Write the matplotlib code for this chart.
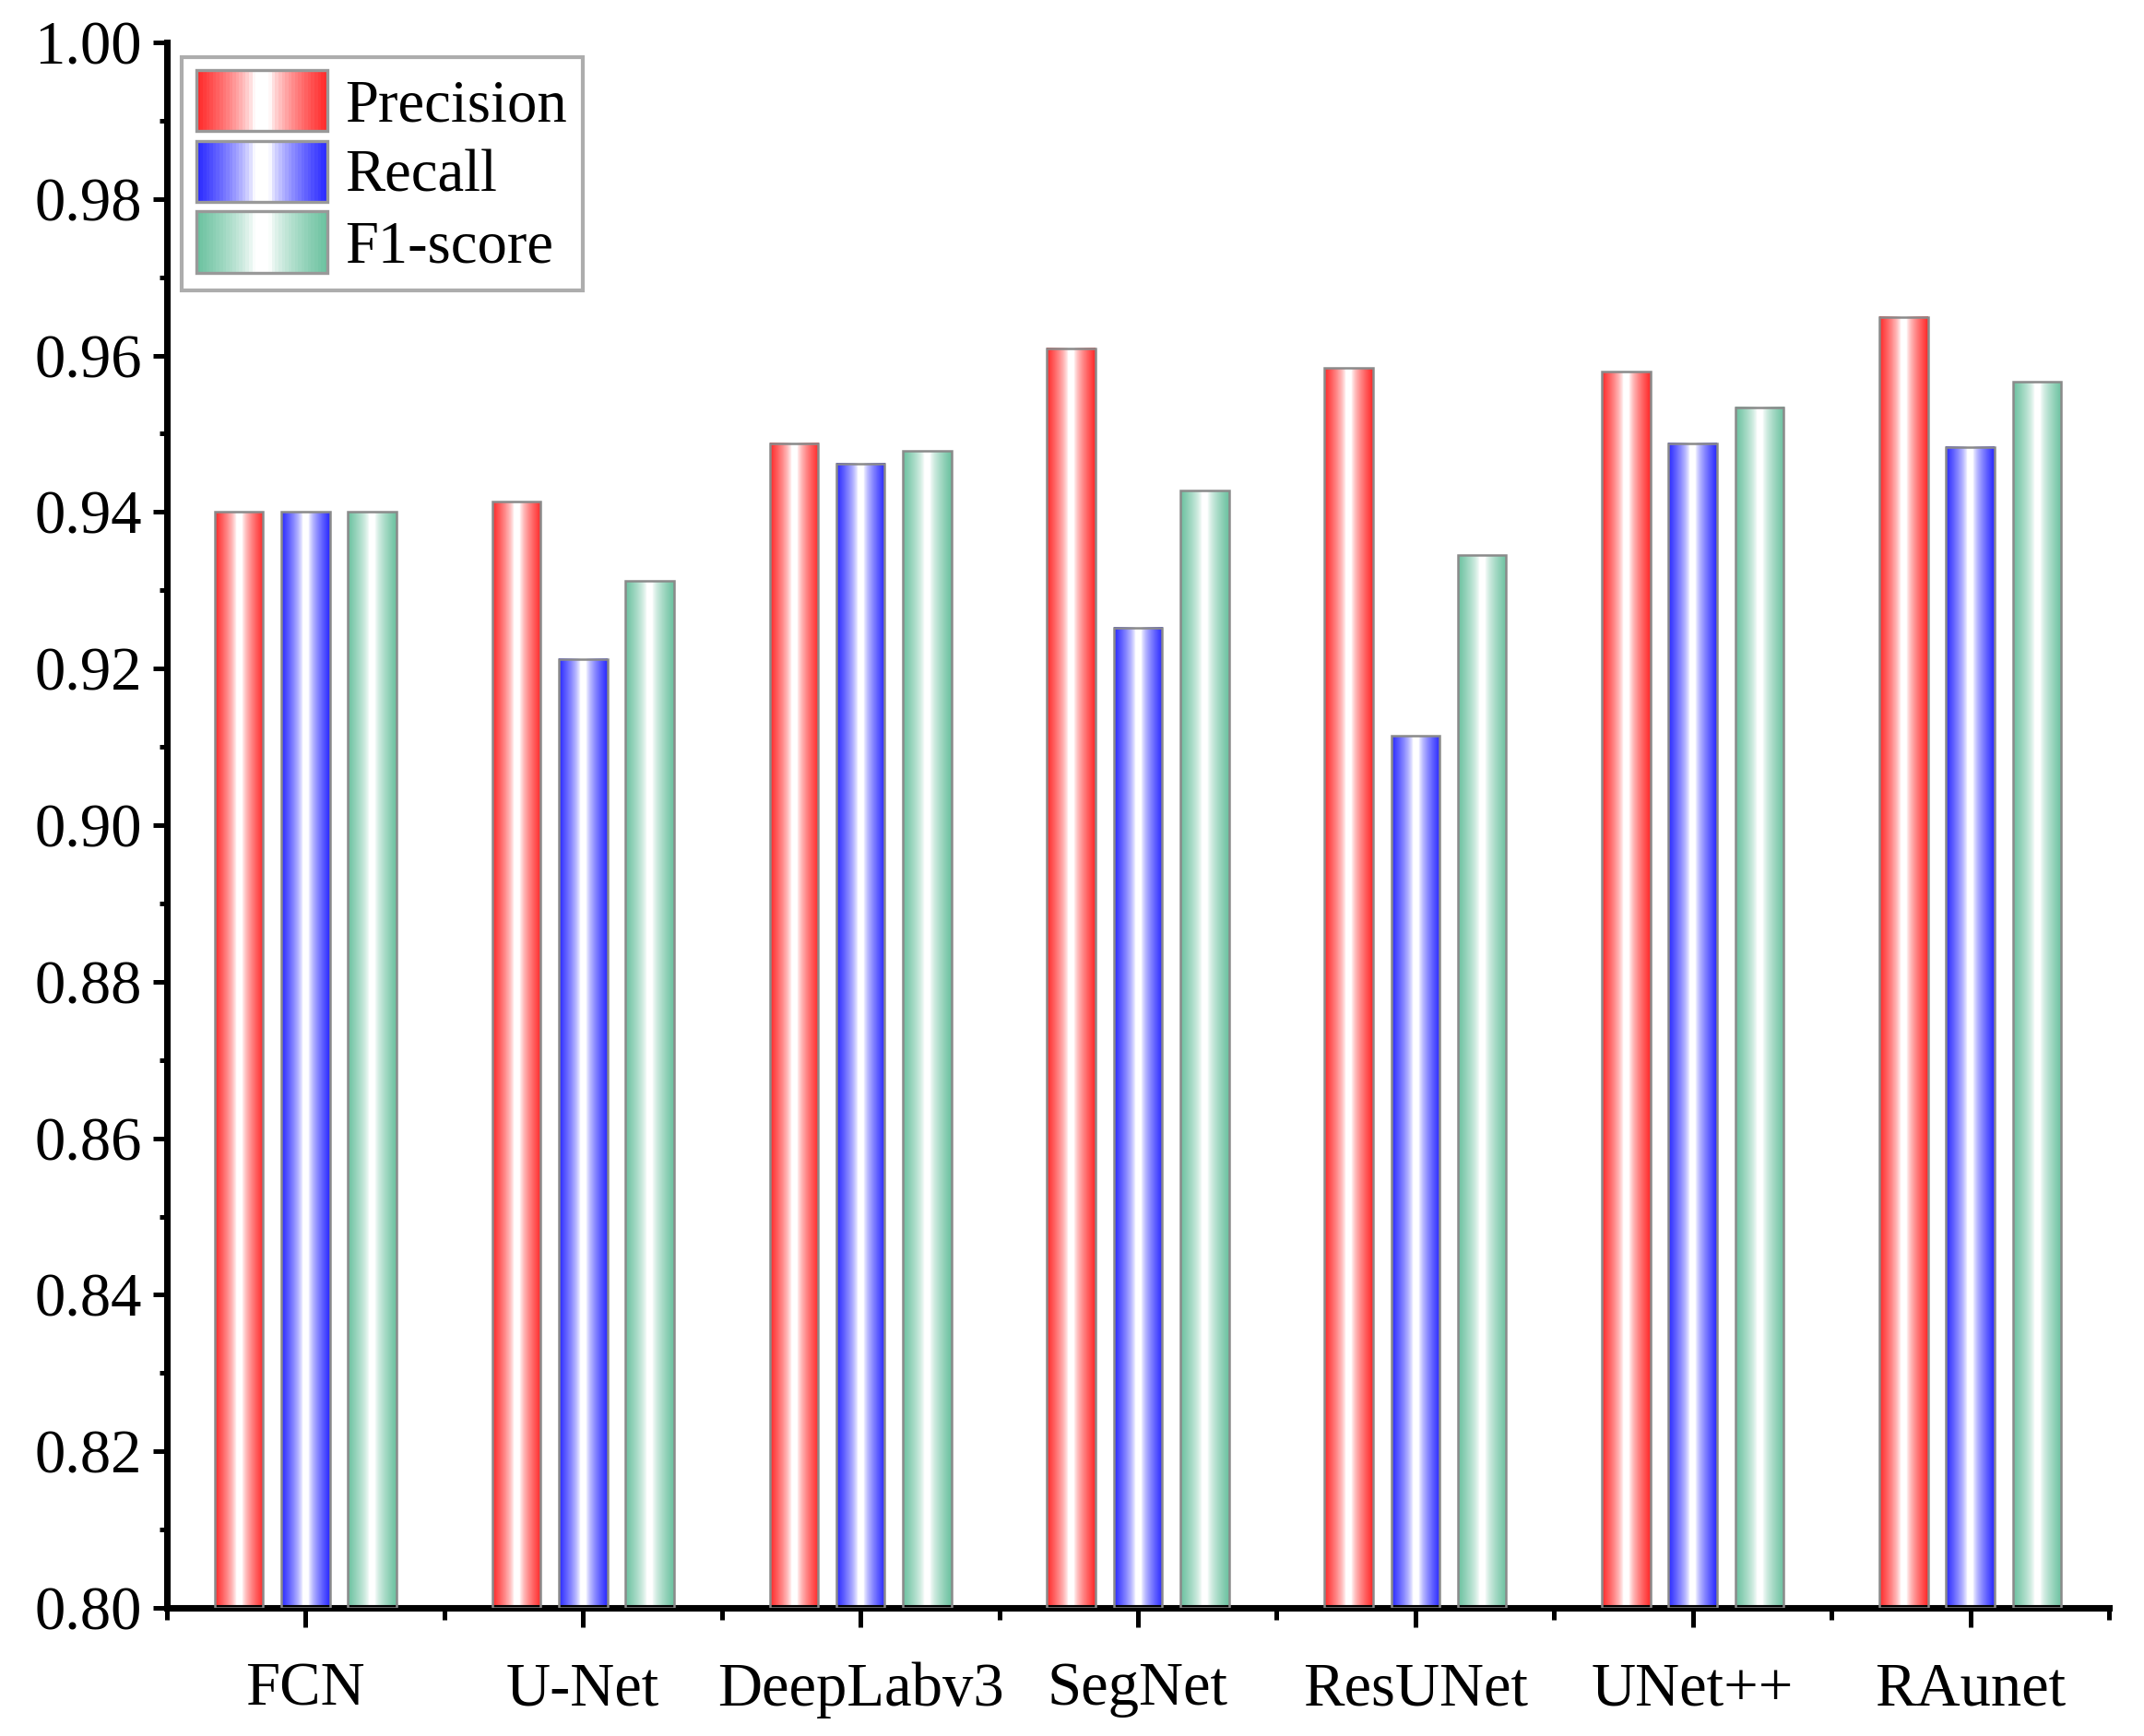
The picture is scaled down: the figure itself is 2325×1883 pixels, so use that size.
import numpy as np
import matplotlib.pyplot as plt
from matplotlib.patches import Rectangle
from matplotlib.legend_handler import HandlerBase
from matplotlib.colors import to_rgb
from matplotlib.ticker import MultipleLocator

plt.rcParams['font.family'] = ['Liberation Serif', 'DejaVu Serif']

models = ['FCN', 'U-Net', 'DeepLabv3', 'SegNet', 'ResUNet', 'UNet++', 'RAunet']
precision = [0.9400, 0.9413, 0.9488, 0.9609, 0.9584, 0.9579, 0.9649]
recall = [0.9400, 0.9212, 0.9462, 0.9252, 0.9114, 0.9488, 0.9483]
f1_score = [0.9400, 0.9312, 0.9478, 0.9427, 0.9345, 0.9534, 0.9566]
series_names = ['Precision', 'Recall', 'F1-score']
series_colors = ['#ff2a2a', '#2a2aff', '#6cc2a0']


def gradient(color, n=64):
    # colour at both edges, white in the middle (Origin style mirrored fill)
    t = np.linspace(0, 1, n)
    w = np.clip((np.abs(2 * t - 1) - 0.12) / 0.88, 0, 1) ** 0.7
    c = np.array(to_rgb(color))
    return (1 - w)[:, None] * np.ones(3) + w[:, None] * c


class GradientHandler(HandlerBase):
    def create_artists(self, legend, orig_handle, xdescent, ydescent,
                       width, height, fontsize, trans):
        cols = gradient(orig_handle.get_facecolor(), 40)
        arts = []
        n = len(cols)
        for i, col in enumerate(cols):
            r = Rectangle((-xdescent + width * i / n, -ydescent - 0.5),
                          width / n + 0.3, height + 1, facecolor=col,
                          edgecolor='none', transform=trans)
            arts.append(r)
        border = Rectangle((-xdescent, -ydescent - 0.5), width, height + 1,
                           facecolor='none', edgecolor='#999999', lw=0.8,
                           transform=trans)
        arts.append(border)
        return arts


fig = plt.figure(figsize=(7.75, 6.2767), dpi=300)
ax = fig.add_axes([0.0778, 0.0738, 0.9059, 0.9018])

x = np.arange(len(models))
width = 0.175
offsets = [-0.24, 0, 0.24]
handles = []
for vals, off, color, name in zip([precision, recall, f1_score], offsets,
                                  series_colors, series_names):
    bars = ax.bar(x + off, np.array(vals) - 0.8, width, bottom=0.8,
                  facecolor='none', edgecolor='#8a8a8a', lw=0.6, zorder=3)
    img = gradient(color)[None, :, :]
    for b in bars:
        x0, y0 = b.get_x(), b.get_y()
        ax.imshow(img, extent=(x0, x0 + b.get_width(), y0, y0 + b.get_height()),
                  aspect='auto', zorder=2, interpolation='bilinear')
    handles.append(Rectangle((0, 0), 1, 1, facecolor=color, label=name))

ax.set_xlim(-0.5, 6.5)
ax.set_ylim(0.80, 1.00)
ax.set_xticks(x)
ax.set_xticklabels(models)
ax.set_xticks(np.arange(-0.5, 6.6, 1.0), minor=True)
ax.set_yticks(np.arange(0.80, 1.001, 0.02))
ax.set_yticklabels([f'{v:.2f}' for v in np.arange(0.80, 1.001, 0.02)])
ax.yaxis.set_minor_locator(MultipleLocator(0.01))

for s in ['top', 'right']:
    ax.spines[s].set_visible(False)
for s in ['left', 'bottom']:
    ax.spines[s].set_linewidth(1.7)

ax.tick_params(axis='y', which='major', length=3.5, width=1.2, pad=3, labelsize=16)
ax.tick_params(axis='y', which='minor', length=2, width=1.2)
ax.tick_params(axis='x', which='major', length=5, width=1.2, pad=9, labelsize=16)
ax.tick_params(axis='x', which='minor', length=3, width=1.2)

leg = ax.legend(handles=handles, loc='upper left', fontsize=15.5,
                handler_map={Rectangle: GradientHandler()},
                handlelength=2.2, handleheight=1.1, labelspacing=0.15,
                handletextpad=0.3, borderpad=0.25, borderaxespad=0.25,
                frameon=True, fancybox=False)
leg.get_frame().set_edgecolor('#999999')
leg.get_frame().set_linewidth(1.0)

fig.savefig('out.png', dpi=300)
